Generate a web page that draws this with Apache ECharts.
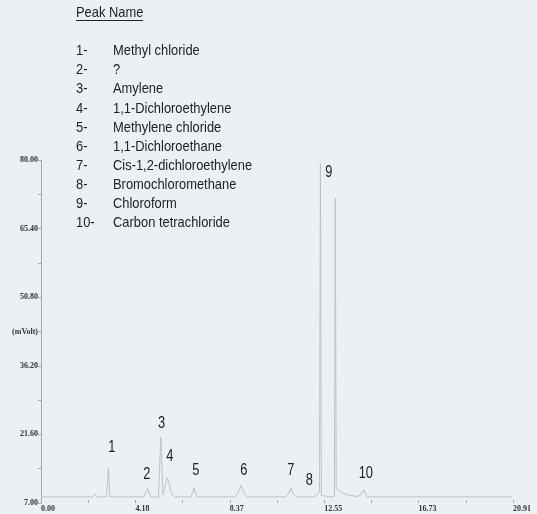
<!DOCTYPE html>
<html><head><meta charset="utf-8">
<script src="https://cdn.jsdelivr.net/npm/echarts@6/dist/echarts.min.js"></script>
<style>html,body{margin:0;padding:0;background:#ebf0f3;}#c{width:537px;height:514px;}</style>
</head><body><div id="c"></div>
<script>
// Chromatogram trace: retention time (min) and signal (mVolt)
const traceTimes  = [0, 2.1, 2.30, 2.39, 2.48, 2.90, 2.99, 3.05, 3.15, 4.55, 4.72, 4.85, 5.20, 5.31, 5.40, 5.59, 5.68, 5.80, 5.95, 6.65, 6.78, 6.90, 8.60, 8.75, 8.86, 8.97, 9.12, 10.85, 10.98, 11.07, 11.16, 11.30, 12.05, 12.20, 12.34, 12.38, 12.42, 12.80, 13.00, 13.04, 13.08, 13.30, 13.60, 13.95, 14.13, 14.30, 14.44, 20.85];
const traceValues = [8.3, 8.3, 8.3, 8.9, 8.3, 8.3, 14.4, 8.4, 8.3, 8.3, 10.1, 8.4, 8.2, 21.0, 8.7, 12.3, 11.2, 8.8, 8.3, 8.3, 10.2, 8.3, 8.3, 9.3, 10.8, 9.3, 8.3, 8.3, 9.1, 10.2, 9.0, 8.3, 8.3, 8.6, 9.5, 79.3, 8.6, 8.3, 8.4, 71.9, 10.2, 9.3, 8.7, 8.4, 8.6, 9.8, 8.3, 8.3];

// Peak number annotations (placed in data coordinates)
const peakLabels = ['1','2','3','4','5','6','7','8','9','10'];
const peakLabelTimes = [3.14, 4.69, 5.34, 5.71, 6.86, 8.99, 11.07, 11.89, 12.75, 14.39];
const peakLabelValues = [18.7, 13.06, 23.8, 16.8, 13.9, 13.8, 14.0, 11.7, 77.4, 13.2];

// Peak name table
const peakNumbers = ['1-','2-','3-','4-','5-','6-','7-','8-','9-','10-'];
const peakNames = ['Methyl chloride','?','Amylene','1,1-Dichloroethylene','Methylene chloride','1,1-Dichloroethane','Cis-1,2-dichloroethylene','Bromochloromethane','Chloroform','Carbon tetrachloride'];
const tableTitle = 'Peak Name';

// Axes
const xMin = 0, xMax = 20.913, xStep = 2.0913;
const yMin = 7, yMax = 80, yStep = 7.3;
const yUnitLabel = '(mVolt)';
const yUnitValue = 43.5;

const txtFont = '"Liberation Sans", Arial, sans-serif';
const axisFont = {fontFamily:'"Liberation Serif", serif', fontWeight:'bold', fontSize:8, color:'#333'};

const chart = echarts.init(document.getElementById('c'), null, {renderer:'canvas'});

function txt(x, y, s, size, sx, align){
  return {type:'text', x:x, y:y, scaleX:sx, scaleY:1,
    style:{text:s, fontFamily:txtFont, fontSize:size, fill:'#222', verticalAlign:'middle', align:align||'left'}};
}
const graphics = [];
graphics.push(txt(76, 13, tableTitle, 15, 0.86));
graphics.push({type:'line', shape:{x1:76, y1:20.5, x2:143, y2:20.5}, style:{stroke:'#222', lineWidth:1}});
const rowY0 = 51, rowStep = 19.15;
peakNumbers.forEach((n,i)=>{
  const y = rowY0 + i*rowStep;
  graphics.push(txt(76, y, n, 15, 0.86));
  graphics.push(txt(113, y, peakNames[i], 15, 0.86));
});

chart.setOption({
  backgroundColor:'#ebf0f3',
  animation:false,
  grid:{left:41, right:24, top:160, bottom:11, containLabel:false},
  xAxis:{
    type:'value', min:xMin, max:xMax, interval:xStep,
    axisLine:{show:false},
    axisTick:{show:true, inside:true, length:3, lineStyle:{color:'#aaa'}},
    splitLine:{show:false},
    axisLabel:Object.assign({
      margin:2, align:'left', verticalAlign:'top', showMinLabel:true, showMaxLabel:true,
      formatter:function(v){const k=Math.round((v-xMin)/xStep); return k%2===0 ? v.toFixed(2) : '';}
    }, axisFont)
  },
  yAxis:{
    type:'value', min:yMin, max:yMax, interval:yStep,
    axisLine:{show:true, lineStyle:{color:'#aaa', width:1}},
    axisTick:{show:true, length:3, lineStyle:{color:'#aaa'}},
    splitLine:{show:false},
    axisLabel:Object.assign({
      margin:3, showMinLabel:true, showMaxLabel:true,
      formatter:function(v){
        if (Math.abs(v-yUnitValue)<0.01) return yUnitLabel;
        const k=Math.round((v-yMin)/yStep); return k%2===0 ? v.toFixed(2) : '';
      }
    }, axisFont)
  },
  series:[
    {type:'line', data:traceTimes.map((t,i)=>[t,traceValues[i]]), showSymbol:false, symbol:'none',
     lineStyle:{color:'#c2c2c2', width:1}, clip:false}
  ]
});

// peak number labels positioned through the chart's own scales
peakLabels.forEach((n,i)=>{
  const p = chart.convertToPixel({seriesIndex:0}, [peakLabelTimes[i], peakLabelValues[i]]);
  graphics.push(txt(p[0], p[1], n, 16, 0.8, 'center'));
});
chart.setOption({graphic:graphics});
</script></body></html>
